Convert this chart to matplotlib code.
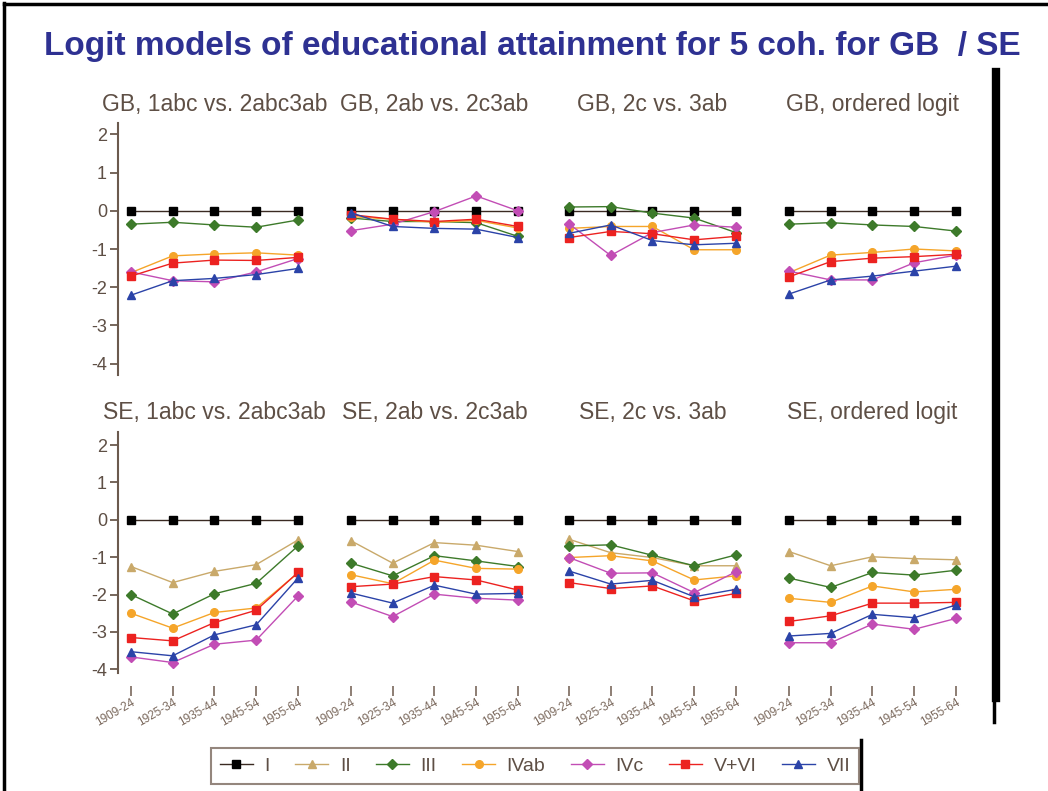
import numpy as np
import matplotlib.pyplot as plt
from matplotlib.lines import Line2D

# cohorts and social classes
cohorts = ['1909-24', '1925-34', '1935-44', '1945-54', '1955-64']
classes = ['I', 'II', 'III', 'IVab', 'IVc', 'V+VI', 'VII']
nan = np.nan

# rows follow the order of classes: I, II, III, IVab, IVc, V+VI, VII
gb_1abc = [[0, 0, 0, 0, 0],
           [nan, nan, nan, nan, nan],
           [-0.35, -0.30, -0.37, -0.43, -0.24],
           [-1.62, -1.18, -1.13, -1.10, -1.16],
           [-1.60, -1.83, -1.86, -1.60, -1.25],
           [-1.71, -1.37, -1.29, -1.30, -1.22],
           [-2.21, -1.83, -1.77, -1.67, -1.51]]
gb_2ab = [[0, 0, 0, 0, 0],
          [nan, nan, nan, nan, nan],
          [-0.19, -0.28, -0.28, -0.31, -0.67],
          [-0.15, -0.22, -0.30, -0.25, -0.45],
          [-0.52, -0.35, -0.02, 0.39, 0.0],
          [-0.10, -0.22, -0.28, -0.22, -0.41],
          [-0.05, -0.41, -0.46, -0.48, -0.70]]
gb_2c = [[0, 0, 0, 0, 0],
         [nan, nan, nan, nan, nan],
         [0.10, 0.11, -0.06, -0.19, -0.57],
         [-0.46, -0.41, -0.41, -1.02, -1.02],
         [-0.34, -1.17, -0.57, -0.37, -0.43],
         [-0.70, -0.54, -0.60, -0.76, -0.67],
         [-0.59, -0.37, -0.78, -0.89, -0.85]]
gb_ord = [[0, 0, 0, 0, 0],
          [nan, nan, nan, nan, nan],
          [-0.35, -0.31, -0.37, -0.41, -0.53],
          [-1.62, -1.16, -1.09, -1.00, -1.05],
          [-1.58, -1.81, -1.81, -1.36, -1.16],
          [-1.73, -1.33, -1.24, -1.20, -1.14],
          [-2.18, -1.81, -1.71, -1.58, -1.45]]
se_1abc = [[0, 0, 0, 0, 0],
           [-1.25, -1.68, -1.38, -1.20, -0.54],
           [-2.00, -2.52, -1.98, -1.70, -0.70],
           [-2.50, -2.90, -2.48, -2.36, -1.42],
           [-3.67, -3.82, -3.33, -3.22, -2.04],
           [-3.15, -3.24, -2.75, -2.42, -1.41],
           [-3.53, -3.64, -3.08, -2.81, -1.56]]
se_2ab = [[0, 0, 0, 0, 0],
          [-0.56, -1.16, -0.61, -0.68, -0.85],
          [-1.16, -1.50, -0.96, -1.10, -1.25],
          [-1.47, -1.71, -1.08, -1.30, -1.32],
          [-2.20, -2.59, -1.99, -2.10, -2.15],
          [-1.79, -1.72, -1.52, -1.61, -1.88],
          [-1.96, -2.23, -1.75, -1.99, -1.97]]
se_2c = [[0, 0, 0, 0, 0],
         [-0.52, -0.88, -1.01, -1.23, -1.23],
         [-0.70, -0.67, -0.95, -1.23, -0.94],
         [-1.01, -0.96, -1.10, -1.61, -1.50],
         [-1.01, -1.43, -1.42, -1.95, -1.39],
         [-1.68, -1.84, -1.77, -2.17, -1.97],
         [-1.37, -1.72, -1.62, -2.06, -1.86]]
se_ord = [[0, 0, 0, 0, 0],
          [-0.85, -1.23, -0.99, -1.04, -1.07],
          [-1.56, -1.81, -1.41, -1.48, -1.35],
          [-2.10, -2.21, -1.77, -1.93, -1.86],
          [-3.29, -3.29, -2.79, -2.93, -2.64],
          [-2.72, -2.57, -2.23, -2.23, -2.21],
          [-3.11, -3.04, -2.53, -2.62, -2.28]]

gb_titles = ['GB, 1abc vs. 2abc3ab', 'GB, 2ab vs. 2c3ab', 'GB, 2c vs. 3ab', 'GB, ordered logit']
se_titles = ['SE, 1abc vs. 2abc3ab', 'SE, 2ab vs. 2c3ab', 'SE, 2c vs. 3ab', 'SE, ordered logit']

colors = ['#000000', '#c9a96a', '#3d7a2a', '#f5a52a', '#c24db5', '#ec2220', '#2b43a8']
line_colors = ['#3a2a22', '#c9a96a', '#3d7a2a', '#f5a52a', '#c24db5', '#ec2220', '#2b43a8']
markers = ['s', '^', 'D', 'o', 'D', 's', '^']
msizes = [6, 6, 5.5, 5.5, 5.5, 6, 6]

brown = '#6b5a4e'
plt.rcParams['font.family'] = ['Liberation Sans', 'DejaVu Sans']

fig = plt.figure(figsize=(10.48, 7.91), dpi=100)
W, H = 1048.0, 791.0

x = np.arange(len(cohorts))
step = 41.75
lefts = [118, 338, 556, 776]


def draw_panel(ax, data, title, first, bottom):
    for k in range(len(classes)):
        ax.plot(x, data[k], color=line_colors[k], lw=1.0, marker=markers[k],
                ms=msizes[k], mfc=colors[k], mec=colors[k], zorder=2 + k * 0.1)
    ax.set_xlim(-0.31, 4.5)
    ax.set_title(title, fontsize=16.5, color='#5e4f45', pad=9, x=(2 + 0.31) / 4.81)
    for s in ['top', 'right']:
        ax.spines[s].set_visible(False)
    ax.spines['bottom'].set_visible(False)
    ax.spines['bottom'].set_position(('outward', 9))
    if first:
        ax.spines['left'].set_color(brown)
        ax.spines['left'].set_linewidth(1.5)
        ax.set_yticks([2, 1, 0, -1, -2, -3, -4])
        ax.set_yticklabels(['2', '1', '0', '-1', '-2', '-3', '-4'])
        ax.tick_params(axis='y', colors=brown, labelcolor='#5e4f45', labelsize=13,
                       length=6, width=1.3, pad=2)
    else:
        ax.spines['left'].set_visible(False)
        ax.set_yticks([])
    if bottom:
        ax.set_xticks(x)
        ax.set_xticklabels(cohorts, rotation=30, ha='right', rotation_mode='anchor',
                           fontsize=8.5, color='#7a685c')
        ax.tick_params(axis='x', colors='#7a685c', length=7, width=1.2, pad=1)
    else:
        ax.set_xticks([])


top_panels = [gb_1abc, gb_2ab, gb_2c, gb_ord]
bot_panels = [se_1abc, se_2ab, se_2c, se_ord]
for i in range(4):
    w = 4.81 * step
    ax = fig.add_axes([lefts[i] / W, 1 - 375 / H, w / W, 252 / H])
    ax.set_ylim(-4.3, 2.3)
    draw_panel(ax, top_panels[i], gb_titles[i], i == 0, False)
    ax = fig.add_axes([lefts[i] / W, 1 - 673 / H, w / W, 241 / H])
    ax.set_ylim(-4.1, 2.35)
    draw_panel(ax, bot_panels[i], se_titles[i], i == 0, True)

fig.text(532 / W, 1 - 46 / H, 'Logit models of educational attainment for 5 coh. for GB  / SE',
         ha='center', va='center', fontsize=24, fontweight='bold', color='#2e3192')

handles = [Line2D([], [], color=line_colors[k], lw=1.0, marker=markers[k], ms=msizes[k],
                  mfc=colors[k], mec=colors[k]) for k in range(len(classes))]
leg = fig.legend(handles, classes, loc='center', bbox_to_anchor=(535 / W, 1 - 766 / H),
                 ncol=7, fontsize=14, frameon=True, fancybox=False, handlelength=1.7,
                 columnspacing=1.3, handletextpad=0.6, borderpad=0.45)
leg.get_frame().set_edgecolor('#7a685c')
leg.get_frame().set_linewidth(1.5)
for t in leg.get_texts():
    t.set_color('#5e4f45')

# slide frame lines
fig.add_artist(Line2D([4 / W, 4 / W], [0, 1 - 3 / H], color='black', lw=2.5))
fig.add_artist(Line2D([4 / W, 1], [1 - 4 / H, 1 - 4 / H], color='black', lw=2.5))
fig.add_artist(Line2D([996 / W, 996 / W], [1 - 72 / H, 1 - 698 / H], color='black', lw=6))
fig.add_artist(Line2D([994 / W, 994 / W], [1 - 698 / H, 1 - 722 / H], color='black', lw=2.5))
fig.add_artist(Line2D([861 / W, 861 / W], [1 - 740 / H, 0], color='black', lw=2.5))

plt.savefig('out.png', dpi=100)
